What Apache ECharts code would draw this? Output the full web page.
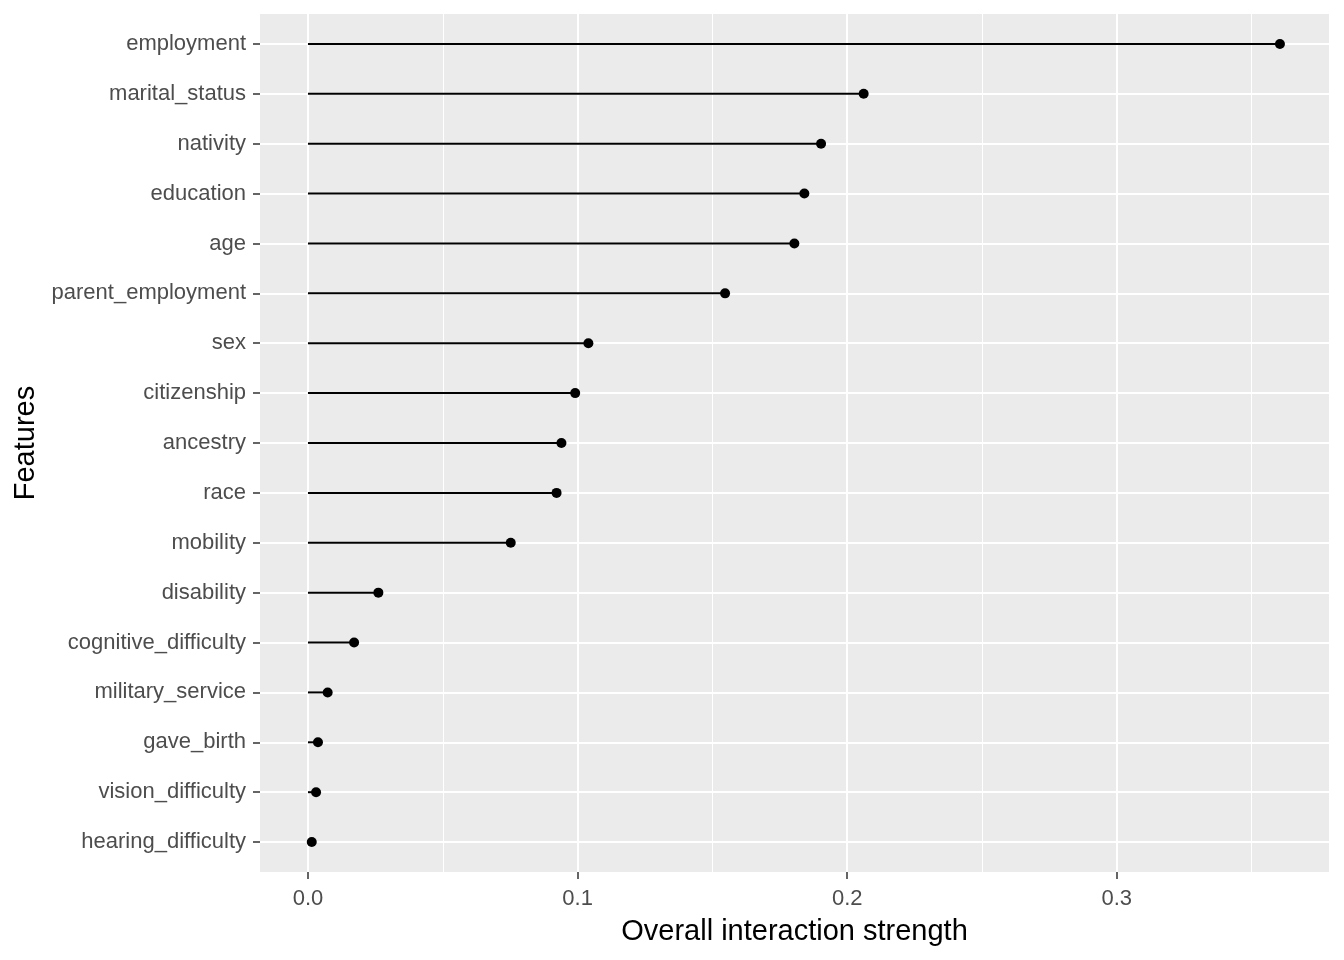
<!DOCTYPE html>
<html>

<head>
    <meta charset="utf-8">
    <script src="https://cdn.jsdelivr.net/npm/echarts@6/dist/echarts.min.js"></script>
    <style>
        html, body { margin: 0; padding: 0; background: #fff; }
        #main { width: 1344px; height: 960px; }
    </style>
</head>

<body>
    <div id="main"></div>

    <script>
        // features, top to bottom
        var features = ['employment', 'marital_status', 'nativity', 'education', 'age',
            'parent_employment', 'sex', 'citizenship', 'ancestry', 'race', 'mobility',
            'disability', 'cognitive_difficulty', 'military_service', 'gave_birth',
            'vision_difficulty', 'hearing_difficulty'];
        var strength = [0.3605, 0.2061, 0.1903, 0.1841, 0.1804,
            0.1547, 0.1040, 0.0991, 0.0940, 0.0922, 0.0752,
            0.0261, 0.0171, 0.0073, 0.0037,
            0.0030, 0.0014];
        var xMajor = [0, 0.1, 0.2, 0.3];
        var xMinor = [0.05, 0.15, 0.25, 0.35];

        var n = features.length;
        var yPos = features.map(function (f, i) { return n - i; });
        var points = strength.map(function (v, i) { return [v, yPos[i]]; });

        var font = '"Liberation Sans", Arial, sans-serif';
        var myChart = echarts.init(document.getElementById('main'), null, { renderer: 'canvas' });

        var gridLines = [];
        xMinor.forEach(function (v) {
            gridLines.push({ xAxis: v, lineStyle: { width: 1 } });
        });
        xMajor.forEach(function (v) {
            gridLines.push({ xAxis: v, lineStyle: { width: 2 } });
        });
        yPos.forEach(function (v) {
            gridLines.push({ yAxis: v, lineStyle: { width: 2 } });
        });

        var option = {
            animation: false,
            textStyle: { fontFamily: font },
            grid: {
                left: 260,
                right: 15,
                top: 14,
                bottom: 88,
                show: true,
                backgroundColor: '#EBEBEB',
                borderWidth: 0
            },
            xAxis: {
                type: 'value',
                min: -0.0178,
                max: 0.3787,
                name: 'Overall interaction strength',
                nameLocation: 'middle',
                nameGap: 45,
                nameTextStyle: { color: '#000', fontSize: 29, fontFamily: font },
                axisLine: { show: true, onZero: false, lineStyle: { color: 'rgba(0,0,0,0)' } },
                axisTick: {
                    show: true, length: 7, customValues: xMajor,
                    lineStyle: { color: '#333333', width: 1.5 }
                },
                axisLabel: {
                    customValues: xMajor,
                    margin: 16,
                    color: '#4D4D4D',
                    fontSize: 22,
                    fontFamily: font,
                    formatter: function (v) { return v.toFixed(1); }
                },
                splitLine: { show: false }
            },
            yAxis: {
                type: 'value',
                min: 0.4,
                max: n + 0.6,
                name: 'Features',
                nameLocation: 'middle',
                nameGap: 213,
                nameRotate: 90,
                nameTextStyle: { color: '#000', fontSize: 29, fontFamily: font },
                axisLine: { show: true, onZero: false, lineStyle: { color: 'rgba(0,0,0,0)' } },
                axisTick: {
                    show: true, length: 7, customValues: yPos,
                    lineStyle: { color: '#333333', width: 1.5 }
                },
                axisLabel: {
                    customValues: yPos,
                    margin: 14,
                    padding: [4, 0, 0, 0],
                    color: '#4D4D4D',
                    fontSize: 22,
                    fontFamily: font,
                    formatter: function (v) { return features[n - Math.round(v)] || ''; }
                },
                splitLine: { show: false }
            },
            series: [
                {
                    // panel grid lines
                    type: 'scatter',
                    data: [],
                    z: 1,
                    silent: true,
                    markLine: {
                        z: 1,
                        silent: true,
                        symbol: ['none', 'none'],
                        label: { show: false },
                        lineStyle: { color: '#FFFFFF', type: 'solid' },
                        data: gridLines
                    }
                },
                {
                    // lollipop stems
                    type: 'custom',
                    z: 3,
                    silent: true,
                    data: points,
                    renderItem: function (params, api) {
                        var start = api.coord([0, api.value(1)]);
                        var end = api.coord([api.value(0), api.value(1)]);
                        return {
                            type: 'line',
                            shape: { x1: start[0], y1: start[1], x2: end[0], y2: end[1] },
                            style: { stroke: '#000', lineWidth: 2 }
                        };
                    }
                },
                {
                    type: 'scatter',
                    z: 4,
                    data: points,
                    symbol: 'circle',
                    symbolSize: 10,
                    itemStyle: { color: '#000', opacity: 1 }
                }
            ]
        };

        myChart.setOption(option);
    </script>
</body>

</html>
